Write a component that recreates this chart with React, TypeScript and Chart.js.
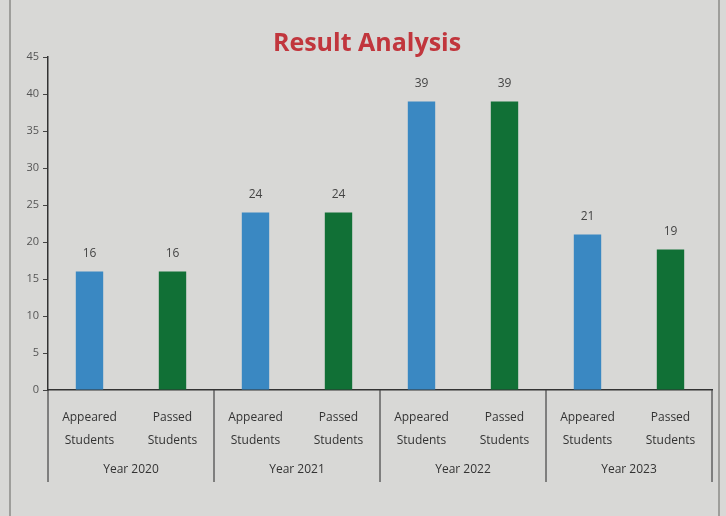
import React, { useEffect, useRef } from "react";
import { Chart, registerables } from "chart.js";

Chart.register(...registerables);

const subLabels = [
  ["Appeared", "Students"], ["Passed", "Students"],
  ["Appeared", "Students"], ["Passed", "Students"],
  ["Appeared", "Students"], ["Passed", "Students"],
  ["Appeared", "Students"], ["Passed", "Students"],
];
const years = ["Year 2020", "Year 2021", "Year 2022", "Year 2023"];
const values = [16, 16, 24, 24, 39, 39, 21, 19];
const barColors = ["#3a88c2", "#117036", "#3a88c2", "#117036", "#3a88c2", "#117036", "#3a88c2", "#117036"];
const yTicks = { min: 0, max: 45, step: 5 };
const titleText = "Result Analysis";

const FONT = "'Open Sans', 'Liberation Sans', sans-serif";

export default function App() {
  const ref = useRef<HTMLCanvasElement | null>(null);
  useEffect(() => {
    document.body.style.margin = "0";
    const canvas = ref.current!;
    const decor = {
      id: "decor",
      beforeDraw(chart: any) {
        const ctx = chart.ctx;
        ctx.save();
        ctx.fillStyle = "#d8d8d6";
        ctx.fillRect(0, 0, chart.width, chart.height);
        ctx.strokeStyle = "#8a8a88";
        ctx.lineWidth = 1.5;
        ctx.beginPath();
        ctx.moveTo(10, 0);
        ctx.lineTo(10, chart.height);
        ctx.moveTo(719, 0);
        ctx.lineTo(719, chart.height);
        ctx.stroke();
        ctx.restore();
      },
      afterDraw(chart: any) {
        const ctx = chart.ctx;
        const xs = chart.scales.x;
        const area = chart.chartArea;
        ctx.save();
        // title
        ctx.fillStyle = "#c1363d";
        ctx.font = `bold 25px ${FONT}`;
        ctx.textAlign = "center";
        ctx.textBaseline = "middle";
        ctx.fillText(titleText, 367, 44);
        // data labels
        const meta = chart.getDatasetMeta(0);
        ctx.fillStyle = "#444";
        ctx.font = `12px ${FONT}`;
        meta.data.forEach((bar: any, i: number) => {
          ctx.fillText(String(values[i]), bar.x, bar.y - 18);
        });
        // group separators and year labels
        const bounds: number[] = [area.left];
        for (let g = 1; g < years.length; g++) {
          const i = g * 2;
          bounds.push((xs.getPixelForValue(i - 1) + xs.getPixelForValue(i)) / 2);
        }
        bounds.push(area.right);
        ctx.strokeStyle = "#444";
        ctx.lineWidth = 1.2;
        ctx.beginPath();
        bounds.forEach((b) => {
          ctx.moveTo(b, area.bottom);
          ctx.lineTo(b, area.bottom + 92);
        });
        ctx.stroke();
        ctx.fillStyle = "#333";
        ctx.font = `12px ${FONT}`;
        years.forEach((y, g) => {
          ctx.fillText(y, (bounds[g] + bounds[g + 1]) / 2, area.bottom + 80);
        });
        ctx.restore();
      },
    };
    const chart = new Chart(canvas, {
      type: "bar",
      data: {
        labels: subLabels,
        datasets: [
          {
            data: values,
            backgroundColor: barColors,
            barPercentage: 0.33,
            categoryPercentage: 1,
          },
        ],
      },
      options: {
        responsive: false,
        animation: false,
        layout: { padding: { left: 0, right: 14, top: 57, bottom: 0 } },
        plugins: { legend: { display: false }, tooltip: { enabled: false }, title: { display: false } },
        scales: {
          x: {
            grid: { display: false },
            border: { color: "#333", width: 1.5 },
            ticks: { color: "#333", font: { family: FONT, size: 12, lineHeight: 1.9 }, padding: 8, maxRotation: 0, autoSkip: false },
            afterFit(scale: any) { scale.height = 126; },
          },
          y: {
            min: yTicks.min,
            max: yTicks.max,
            ticks: { stepSize: yTicks.step, color: "#555", font: { family: FONT, size: 11 }, padding: 4 },
            grid: { drawOnChartArea: false, drawTicks: true, tickLength: 5, color: "#444" },
            border: { color: "#333", width: 1.5 },
            afterFit(scale: any) { scale.width = 48; },
          },
        },
      },
      plugins: [decor],
    });
    return () => chart.destroy();
  }, []);
  return <canvas ref={ref} width={726} height={516} style={{ display: "block" }} />;
}
